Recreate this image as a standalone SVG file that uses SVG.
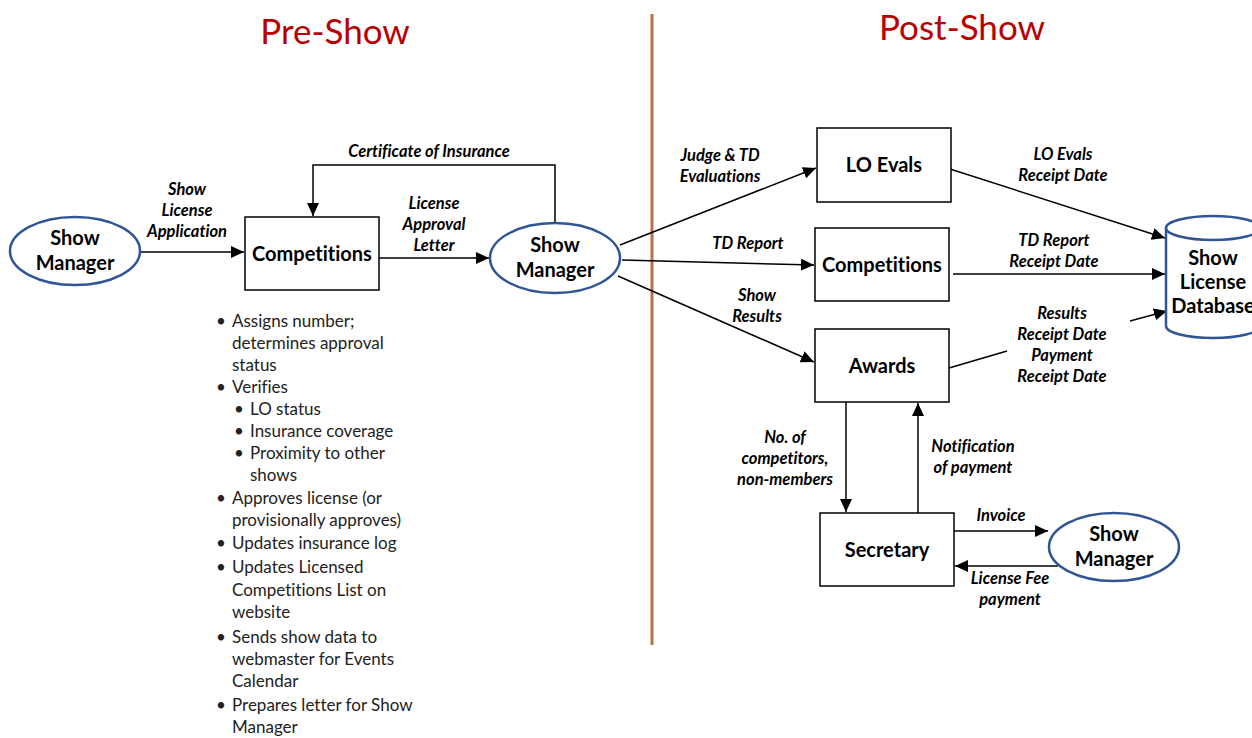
<svg xmlns="http://www.w3.org/2000/svg" width="1252" height="738" viewBox="0 0 1252 738">
<style>
text{font-variant-ligatures:none}
.title{font-family:Lato,"Open Sans",sans-serif;font-size:35px;fill:#b80000;text-anchor:middle}
.node{font-family:Lato,"Open Sans",sans-serif;font-size:20px;font-weight:bold;fill:#000;text-anchor:middle}
.lbl{font-family:Lato,"Open Sans",sans-serif;font-size:16.5px;font-weight:bold;font-style:italic;fill:#000;text-anchor:middle}
.list{font-family:Lato,"Open Sans",sans-serif;font-size:17px;fill:#222}
.box{fill:#fff;stroke:#000;stroke-width:1.5}
.ell{fill:#fff;stroke:#2f5597;stroke-width:2.5}
.con{fill:none;stroke:#000;stroke-width:1.5}
</style>
<defs>
<marker id="ah" markerUnits="userSpaceOnUse" markerWidth="14" markerHeight="12" refX="13" refY="6" orient="auto">
<path d="M0,0 L13,6 L0,12 Z" fill="#000"/>
</marker>
</defs>
<rect width="1252" height="738" fill="#fff"/>
<text class="title" x="335" y="44">Pre-Show</text>
<text class="title" x="962" y="40">Post-Show</text>
<line x1="652" y1="14" x2="652" y2="645" stroke="#b8714a" stroke-width="3"/>

<g id="connectors">
<line class="con" x1="140" y1="252" x2="244" y2="252" marker-end="url(#ah)"/>
<polyline class="con" points="555,223 555,165 313,165 313,216" marker-end="url(#ah)"/>
<line class="con" x1="379" y1="258" x2="489" y2="258" marker-end="url(#ah)"/>
<line class="con" x1="620" y1="245" x2="816" y2="168" marker-end="url(#ah)"/>
<line class="con" x1="622" y1="260" x2="814" y2="265" marker-end="url(#ah)"/>
<line class="con" x1="618" y1="276" x2="814" y2="362" marker-end="url(#ah)"/>
<line class="con" x1="950" y1="169" x2="1165" y2="238" marker-end="url(#ah)"/>
<line class="con" x1="953" y1="274" x2="1165" y2="274" marker-end="url(#ah)"/>
<line class="con" x1="949" y1="368" x2="1007" y2="351"/>
<line class="con" x1="1130" y1="321" x2="1167" y2="311" marker-end="url(#ah)"/>
<line class="con" x1="846" y1="402" x2="846" y2="512" marker-end="url(#ah)"/>
<line class="con" x1="918" y1="513" x2="918" y2="403" marker-end="url(#ah)"/>
<line class="con" x1="954" y1="531" x2="1048" y2="531" marker-end="url(#ah)"/>
<line class="con" x1="1058" y1="566" x2="955" y2="566" marker-end="url(#ah)"/>
</g>

<g id="labels">
<text class="lbl" x="187" y="195">Show</text>
<text class="lbl" x="187" y="216">License</text>
<text class="lbl" x="187" y="237">Application</text>
<text class="lbl" x="429" y="157">Certificate of Insurance</text>
<text class="lbl" x="434" y="209">License</text>
<text class="lbl" x="434" y="230">Approval</text>
<text class="lbl" x="434" y="251">Letter</text>
<text class="lbl" x="720" y="161">Judge &amp; TD</text>
<text class="lbl" x="720" y="182">Evaluations</text>
<text class="lbl" x="748" y="249">TD Report</text>
<text class="lbl" x="757" y="301">Show</text>
<text class="lbl" x="757" y="322">Results</text>
<text class="lbl" x="1063" y="160">LO Evals</text>
<text class="lbl" x="1063" y="181">Receipt Date</text>
<text class="lbl" x="1054" y="246">TD Report</text>
<text class="lbl" x="1054" y="267">Receipt Date</text>
<text class="lbl" x="1062" y="319">Results</text>
<text class="lbl" x="1062" y="340">Receipt Date</text>
<text class="lbl" x="1062" y="361">Payment</text>
<text class="lbl" x="1062" y="382">Receipt Date</text>
<text class="lbl" x="785" y="443">No. of</text>
<text class="lbl" x="785" y="464">competitors,</text>
<text class="lbl" x="785" y="485">non-members</text>
<text class="lbl" x="973" y="452">Notification</text>
<text class="lbl" x="973" y="473">of payment</text>
<text class="lbl" x="1001" y="521">Invoice</text>
<text class="lbl" x="1010" y="584">License Fee</text>
<text class="lbl" x="1010" y="605">payment</text>
</g>

<g id="showmanager1">
<ellipse class="ell" cx="75" cy="251" rx="65" ry="34"/>
<text class="node" x="75" y="245">Show</text>
<text class="node" x="75" y="270">Manager</text>
</g>
<g id="competitions1">
<rect class="box" x="245" y="217" width="134" height="73"/>
<text class="node" x="312" y="261">Competitions</text>
</g>
<g id="showmanager2">
<ellipse class="ell" cx="555" cy="258" rx="65" ry="35"/>
<text class="node" x="555" y="252">Show</text>
<text class="node" x="555" y="277">Manager</text>
</g>
<g id="loevals">
<rect class="box" x="817" y="128" width="134" height="74"/>
<text class="node" x="884" y="172">LO Evals</text>
</g>
<g id="competitions2">
<rect class="box" x="815" y="228" width="134" height="73"/>
<text class="node" x="882" y="272">Competitions</text>
</g>
<g id="awards">
<rect class="box" x="815" y="329" width="134" height="73"/>
<text class="node" x="882" y="373">Awards</text>
</g>
<g id="secretary">
<rect class="box" x="820" y="513" width="134" height="73"/>
<text class="node" x="887" y="557">Secretary</text>
</g>
<g id="showmanager3">
<ellipse class="ell" cx="1114" cy="547" rx="65" ry="34"/>
<text class="node" x="1114" y="541">Show</text>
<text class="node" x="1114" y="566">Manager</text>
</g>
<g id="database">
<path class="ell" d="M1166,228 L1166,326 A47,12 0 0 0 1260,326 L1260,228"/>
<ellipse class="ell" cx="1213" cy="228" rx="47" ry="12"/>
<text class="node" x="1213" y="265">Show</text>
<text class="node" x="1213" y="289">License</text>
<text class="node" x="1213" y="313">Database</text>
</g>

<g id="notes" class="list">
<text x="216" y="327">•</text><text x="232" y="327">Assigns number;</text>
<text x="232" y="349">determines approval</text>
<text x="232" y="371">status</text>
<text x="216" y="393">•</text><text x="232" y="393">Verifies</text>
<text x="234" y="415">•</text><text x="250" y="415">LO status</text>
<text x="234" y="437">•</text><text x="250" y="437">Insurance coverage</text>
<text x="234" y="459">•</text><text x="250" y="459">Proximity to other</text>
<text x="250" y="481">shows</text>
<text x="216" y="504">•</text><text x="232" y="504">Approves license (or</text>
<text x="232" y="526">provisionally approves)</text>
<text x="216" y="549">•</text><text x="232" y="549">Updates insurance log</text>
<text x="216" y="573">•</text><text x="232" y="573">Updates Licensed</text>
<text x="232" y="596">Competitions List on</text>
<text x="232" y="618">website</text>
<text x="216" y="643">•</text><text x="232" y="643">Sends show data to</text>
<text x="232" y="665">webmaster for Events</text>
<text x="232" y="687">Calendar</text>
<text x="216" y="711">•</text><text x="232" y="711">Prepares letter for Show</text>
<text x="232" y="733">Manager</text>
</g>
</svg>
